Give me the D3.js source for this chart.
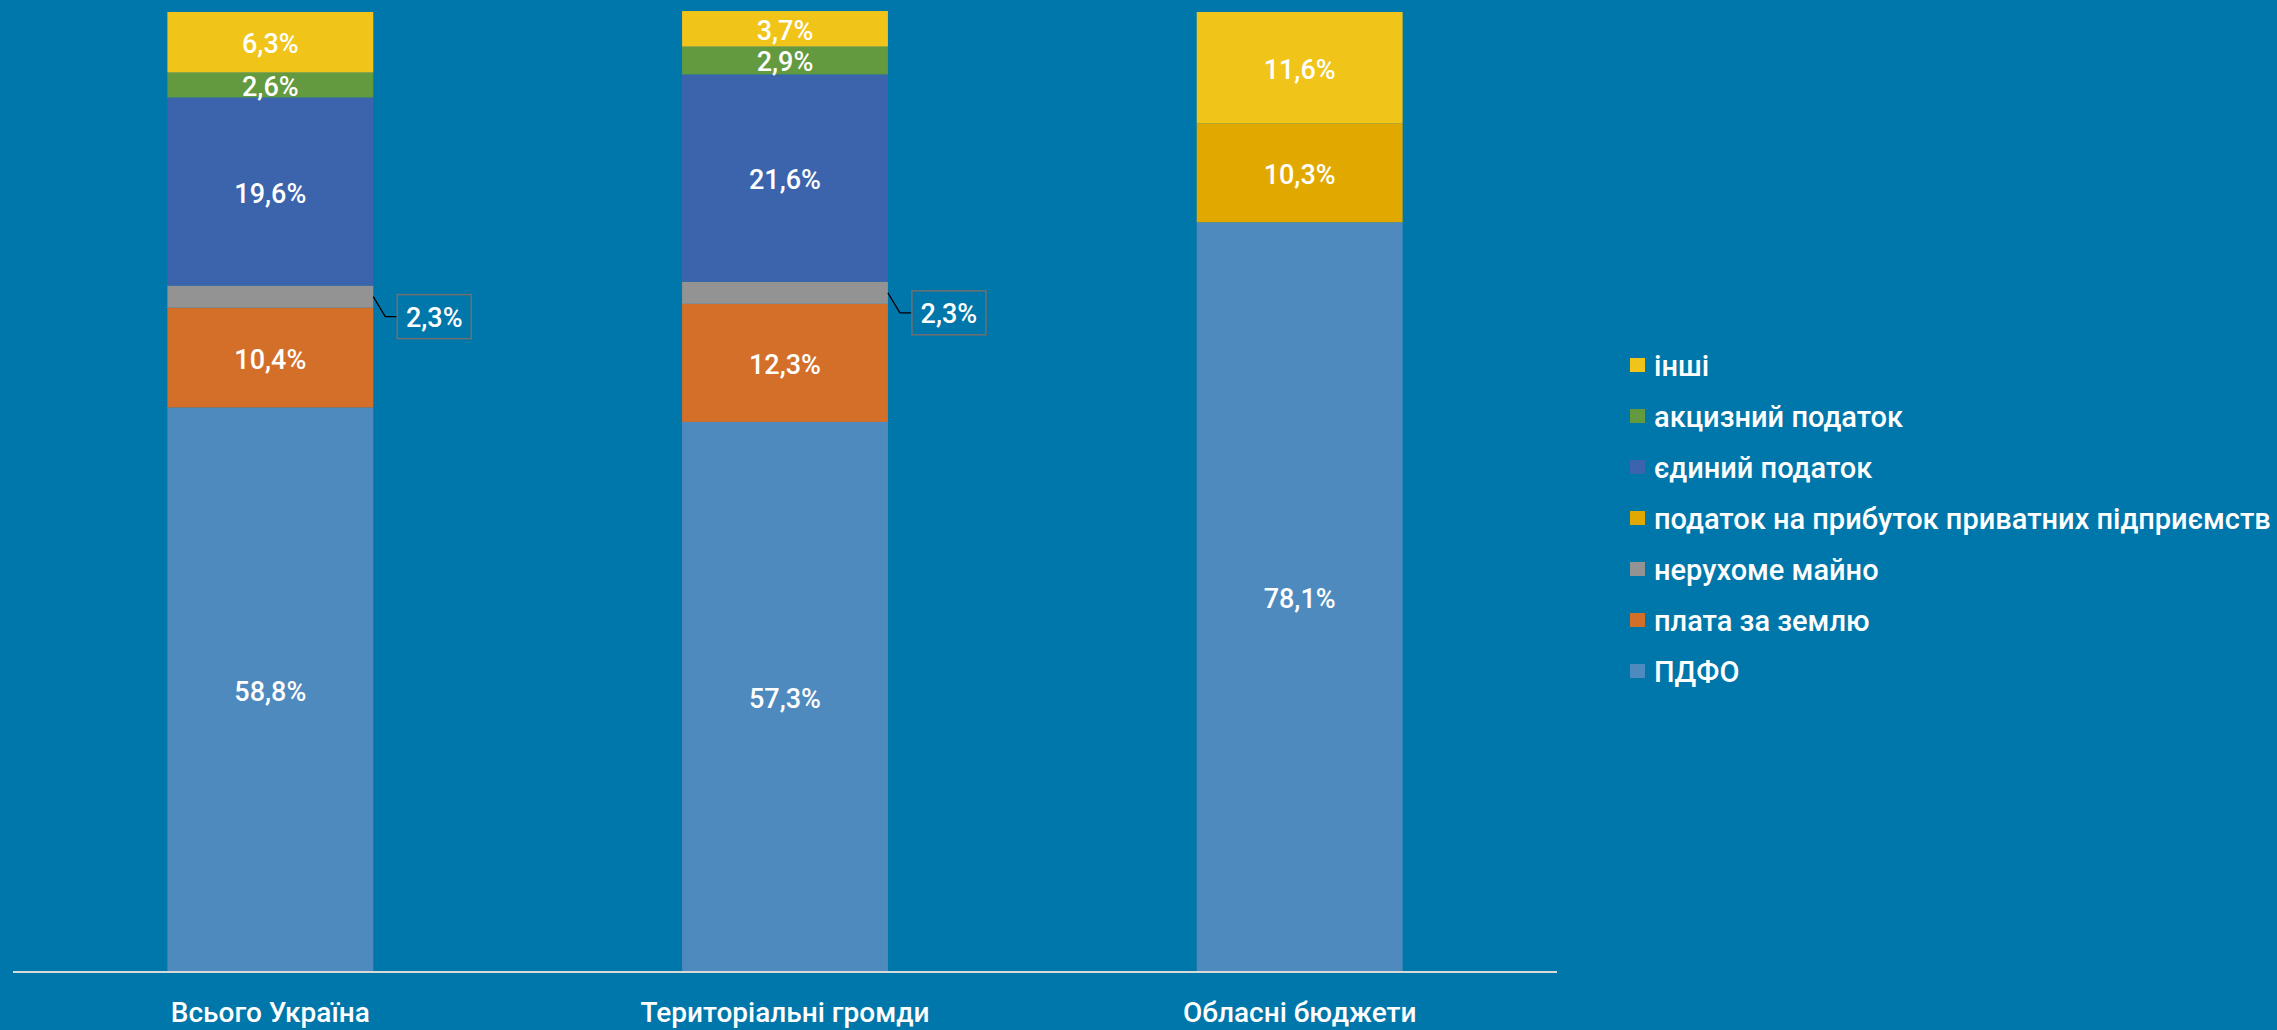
<!DOCTYPE html>
<html>
<head>
<meta charset="utf-8">
<script src="https://cdn.jsdelivr.net/npm/d3@7"></script>
<style>
  html, body { margin: 0; padding: 0; background: #0077aa; }
  svg { display: block; }
  text { font-family: Roboto, "Noto Sans", sans-serif; fill: #fff; }
</style>
</head>
<body>
<div id="viz"></div>
<script>
// categories on the x axis (typo kept as in the source)
var categories = ['Всього Україна', 'Територіальні громди', 'Обласні бюджети'];

// series, bottom to top of the stack
var pdfo     = [58.8, 57.3, 78.1];
var land     = [10.4, 12.3, 0];
var realty   = [2.3, 2.3, 0];
var profit   = [0, 0, 10.3];
var single   = [19.6, 21.6, 0];
var excise   = [2.6, 2.9, 0];
var other    = [6.3, 3.7, 11.6];

var seriesNames = ['ПДФО', 'плата за землю', 'нерухоме майно',
  'податок на прибуток приватних підприємств', 'єдиний податок',
  'акцизний податок', 'інші'];
var seriesValues = [pdfo, land, realty, profit, single, excise, other];
var seriesColors = ['#4f8abe', '#d46f2a', '#939393', '#e1a900', '#3c64ad', '#639a3f', '#f0c419'];

// legend order, top to bottom
var legendOrder = ['інші', 'акцизний податок', 'єдиний податок',
  'податок на прибуток приватних підприємств', 'нерухоме майно',
  'плата за землю', 'ПДФО'];

var width = 2277, height = 1030;
var plotL = 13, plotR = 1557, plotT = 12, plotB = 972;

var rows = categories.map(function(c, i) {
  var r = {cat: c};
  seriesNames.forEach(function(s, j) { r[s] = seriesValues[j][i]; });
  return r;
});

var stack = d3.stack().keys(seriesNames);
var layers = stack(rows);

var x = d3.scaleBand().domain(categories).range([plotL, plotR]).padding(0);
var barW = x.bandwidth() * 0.4;
var y = d3.scaleLinear().domain([0, 100]).range([plotB, plotT]);
var color = d3.scaleOrdinal().domain(seriesNames).range(seriesColors);

function fmt(v) { return v.toFixed(1).replace('.', ',') + '%'; }

var svg = d3.select('#viz').append('svg')
  .attr('width', width)
  .attr('height', height);

var layer = svg.selectAll('g.layer').data(layers)
  .enter().append('g')
    .attr('class', 'layer')
    .attr('fill', function(d) { return color(d.key); });

layer.selectAll('rect').data(function(d) { return d; })
  .enter().append('rect')
    .attr('x', function(d) { return x(d.data.cat) + (x.bandwidth() - barW) / 2; })
    .attr('width', barW)
    .attr('y', function(d) { return y(d[1]); })
    .attr('height', function(d) { return y(d[0]) - y(d[1]); });

// axis line
svg.append('line')
  .attr('x1', plotL).attr('x2', plotR)
  .attr('y1', plotB).attr('y2', plotB)
  .attr('stroke', '#d9d9d9')
  .attr('stroke-width', 2);

// category labels
svg.selectAll('text.cat').data(categories)
  .enter().append('text')
    .attr('class', 'cat')
    .attr('x', function(d) { return x(d) + x.bandwidth() / 2; })
    .attr('y', 1022)
    .attr('text-anchor', 'middle')
    .style('font-size', '28px')
    .style('font-weight', 500)
    .text(function(d) { return d; });

// value labels
layers.forEach(function(l) {
  l.forEach(function(d) {
    var v = d[1] - d[0];
    if (v <= 0) return;
    var cx = x(d.data.cat) + x.bandwidth() / 2;
    var cy = (y(d[0]) + y(d[1])) / 2;
    if (l.key === 'нерухоме майно') {
      // callout to the right of the bar
      var x0 = cx + barW / 2;
      var bx = x0 + 24, by = cy + 20;
      svg.append('path')
        .attr('d', 'M' + x0 + ',' + cy + 'L' + (x0 + 12) + ',' + by + 'L' + bx + ',' + by)
        .attr('fill', 'none')
        .attr('stroke', '#000')
        .attr('stroke-width', 1.3);
      svg.append('rect')
        .attr('x', bx).attr('y', by - 22)
        .attr('width', 74).attr('height', 44)
        .attr('fill', 'none')
        .attr('stroke', '#6f6f6f')
        .attr('stroke-width', 1.5);
      svg.append('text')
        .attr('x', bx + 37).attr('y', by + 1)
        .attr('text-anchor', 'middle')
        .attr('dominant-baseline', 'central')
        .style('font-size', '27px')
        .style('font-weight', 500)
        .text(fmt(v));
    } else {
      svg.append('text')
        .attr('x', cx).attr('y', cy + 2)
        .attr('text-anchor', 'middle')
        .attr('dominant-baseline', 'central')
        .style('font-size', '27px')
        .style('font-weight', 500)
        .text(fmt(v));
    }
  });
});

// legend
var legend = svg.append('g').attr('transform', 'translate(1630,365)');
var item = legend.selectAll('g').data(legendOrder)
  .enter().append('g')
    .attr('transform', function(d, i) { return 'translate(0,' + (i * 51) + ')'; });
item.append('rect')
  .attr('x', 0).attr('y', -7)
  .attr('width', 15).attr('height', 14)
  .attr('fill', function(d) { return color(d); });
item.append('text')
  .attr('x', 24).attr('y', 1)
  .attr('dominant-baseline', 'central')
  .style('font-size', '29px')
  .style('font-weight', 500)
  .text(function(d) { return d; });
</script>
</body>
</html>
